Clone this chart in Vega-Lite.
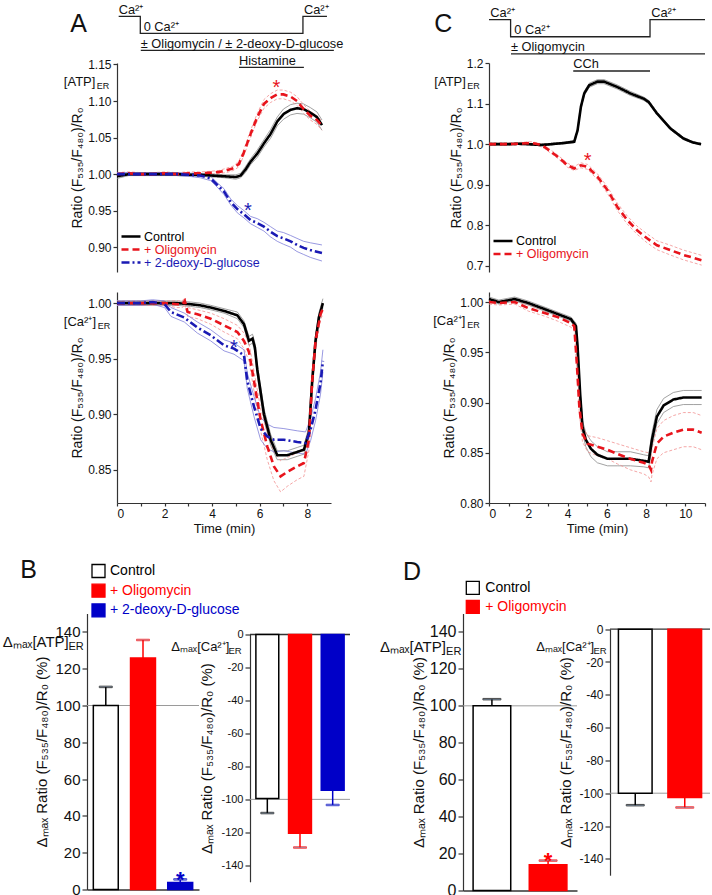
{
"$schema": "https://vega.github.io/schema/vega-lite/v6.json",
"padding": {"left": 2, "top": 0, "right": 0, "bottom": 0},
"spacing": 22.5,
"config": {
 "font": "Liberation Sans",
 "view": {"stroke": null},
 "axis": {"domainColor": "#333333", "tickColor": "#333333", "labelColor": "#111111", "titleColor": "#111111", "grid": false, "titleFontWeight": "normal", "domainWidth": 1.2, "tickWidth": 1.2, "tickSize": 4, "labelPadding": 2, "labelOverlap": false},
 "text": {"color": "#111111"}
},
"datasets": {
 "A1": [
  {"s":"Control","t":0,"m":0.997,"e":0.003},{"s":"Control","t":0.5,"m":1.0,"e":0.002},{"s":"Control","t":1,"m":1.0,"e":0.002},{"s":"Control","t":1.5,"m":1.0,"e":0.002},{"s":"Control","t":2,"m":1.0,"e":0.002},{"s":"Control","t":2.5,"m":1.0,"e":0.002},{"s":"Control","t":3,"m":0.999,"e":0.002},{"s":"Control","t":3.5,"m":0.999,"e":0.002},{"s":"Control","t":4,"m":0.998,"e":0.002},{"s":"Control","t":4.5,"m":0.997,"e":0.002},{"s":"Control","t":5,"m":0.996,"e":0.003},{"s":"Control","t":5.2,"m":0.998,"e":0.003},{"s":"Control","t":5.4,"m":1.006,"e":0.004},{"s":"Control","t":5.62,"m":1.017,"e":0.004},{"s":"Control","t":5.9,"m":1.028,"e":0.005},{"s":"Control","t":6.18,"m":1.042,"e":0.005},{"s":"Control","t":6.46,"m":1.055,"e":0.006},{"s":"Control","t":6.74,"m":1.072,"e":0.006},{"s":"Control","t":7,"m":1.082,"e":0.007},{"s":"Control","t":7.3,"m":1.088,"e":0.007},{"s":"Control","t":7.57,"m":1.09,"e":0.007},{"s":"Control","t":7.85,"m":1.089,"e":0.007},{"s":"Control","t":8.13,"m":1.084,"e":0.007},{"s":"Control","t":8.41,"m":1.078,"e":0.007},{"s":"Control","t":8.62,"m":1.067,"e":0.007},
  {"s":"+ Oligomycin","t":0,"m":1.0,"e":0.002},{"s":"+ Oligomycin","t":0.5,"m":1.001,"e":0.002},{"s":"+ Oligomycin","t":1,"m":1.0,"e":0.002},{"s":"+ Oligomycin","t":1.5,"m":1.0,"e":0.002},{"s":"+ Oligomycin","t":2,"m":1.001,"e":0.002},{"s":"+ Oligomycin","t":2.5,"m":1.0,"e":0.002},{"s":"+ Oligomycin","t":3,"m":1.001,"e":0.002},{"s":"+ Oligomycin","t":3.5,"m":1.001,"e":0.002},{"s":"+ Oligomycin","t":4,"m":1.002,"e":0.002},{"s":"+ Oligomycin","t":4.3,"m":1.003,"e":0.002},{"s":"+ Oligomycin","t":4.6,"m":1.005,"e":0.003},{"s":"+ Oligomycin","t":4.9,"m":1.008,"e":0.003},{"s":"+ Oligomycin","t":5.13,"m":1.014,"e":0.004},{"s":"+ Oligomycin","t":5.34,"m":1.03,"e":0.004},{"s":"+ Oligomycin","t":5.62,"m":1.055,"e":0.005},{"s":"+ Oligomycin","t":5.9,"m":1.078,"e":0.005},{"s":"+ Oligomycin","t":6.18,"m":1.096,"e":0.006},{"s":"+ Oligomycin","t":6.46,"m":1.104,"e":0.006},{"s":"+ Oligomycin","t":6.74,"m":1.109,"e":0.006},{"s":"+ Oligomycin","t":7,"m":1.109,"e":0.006},{"s":"+ Oligomycin","t":7.3,"m":1.106,"e":0.006},{"s":"+ Oligomycin","t":7.57,"m":1.1,"e":0.006},{"s":"+ Oligomycin","t":7.85,"m":1.089,"e":0.006},{"s":"+ Oligomycin","t":8.13,"m":1.08,"e":0.006},{"s":"+ Oligomycin","t":8.41,"m":1.074,"e":0.006},{"s":"+ Oligomycin","t":8.62,"m":1.066,"e":0.006},
  {"s":"+ 2-deoxy-D-glucose","t":0,"m":1.0,"e":0.002},{"s":"+ 2-deoxy-D-glucose","t":0.5,"m":1.0,"e":0.002},{"s":"+ 2-deoxy-D-glucose","t":1,"m":1.0,"e":0.002},{"s":"+ 2-deoxy-D-glucose","t":1.5,"m":1.0,"e":0.002},{"s":"+ 2-deoxy-D-glucose","t":2,"m":1.0,"e":0.002},{"s":"+ 2-deoxy-D-glucose","t":2.5,"m":1.0,"e":0.002},{"s":"+ 2-deoxy-D-glucose","t":3,"m":0.999,"e":0.002},{"s":"+ 2-deoxy-D-glucose","t":3.5,"m":0.998,"e":0.003},{"s":"+ 2-deoxy-D-glucose","t":3.94,"m":0.994,"e":0.003},{"s":"+ 2-deoxy-D-glucose","t":4.22,"m":0.985,"e":0.003},{"s":"+ 2-deoxy-D-glucose","t":4.5,"m":0.976,"e":0.004},{"s":"+ 2-deoxy-D-glucose","t":4.78,"m":0.962,"e":0.004},{"s":"+ 2-deoxy-D-glucose","t":5.06,"m":0.952,"e":0.005},{"s":"+ 2-deoxy-D-glucose","t":5.34,"m":0.945,"e":0.005},{"s":"+ 2-deoxy-D-glucose","t":5.62,"m":0.937,"e":0.005},{"s":"+ 2-deoxy-D-glucose","t":5.9,"m":0.933,"e":0.006},{"s":"+ 2-deoxy-D-glucose","t":6.18,"m":0.928,"e":0.006},{"s":"+ 2-deoxy-D-glucose","t":6.46,"m":0.921,"e":0.007},{"s":"+ 2-deoxy-D-glucose","t":6.74,"m":0.915,"e":0.007},{"s":"+ 2-deoxy-D-glucose","t":7,"m":0.912,"e":0.008},{"s":"+ 2-deoxy-D-glucose","t":7.3,"m":0.908,"e":0.008},{"s":"+ 2-deoxy-D-glucose","t":7.57,"m":0.903,"e":0.009},{"s":"+ 2-deoxy-D-glucose","t":7.85,"m":0.899,"e":0.009},{"s":"+ 2-deoxy-D-glucose","t":8.13,"m":0.896,"e":0.01},{"s":"+ 2-deoxy-D-glucose","t":8.62,"m":0.892,"e":0.011}
 ],
 "A2": [
  {"s":"Control","t":0,"m":1.0,"e":0.002},{"s":"Control","t":0.5,"m":1.0,"e":0.002},{"s":"Control","t":1,"m":1.0,"e":0.002},{"s":"Control","t":1.5,"m":1.0,"e":0.002},{"s":"Control","t":2,"m":1.0,"e":0.002},{"s":"Control","t":2.5,"m":1.0,"e":0.002},{"s":"Control","t":3.1,"m":0.999,"e":0.002},{"s":"Control","t":3.5,"m":0.998,"e":0.002},{"s":"Control","t":3.94,"m":0.996,"e":0.002},{"s":"Control","t":4.5,"m":0.993,"e":0.002},{"s":"Control","t":5.06,"m":0.989,"e":0.003},{"s":"Control","t":5.34,"m":0.981,"e":0.003},{"s":"Control","t":5.55,"m":0.966,"e":0.004},{"s":"Control","t":5.7,"m":0.968,"e":0.004},{"s":"Control","t":5.8,"m":0.96,"e":0.004},{"s":"Control","t":5.9,"m":0.94,"e":0.005},{"s":"Control","t":6.18,"m":0.9,"e":0.005},{"s":"Control","t":6.46,"m":0.877,"e":0.005},{"s":"Control","t":6.74,"m":0.863,"e":0.004},{"s":"Control","t":7.16,"m":0.863,"e":0.004},{"s":"Control","t":7.58,"m":0.866,"e":0.004},{"s":"Control","t":7.86,"m":0.868,"e":0.004},{"s":"Control","t":8.07,"m":0.883,"e":0.005},{"s":"Control","t":8.21,"m":0.93,"e":0.005},{"s":"Control","t":8.35,"m":0.966,"e":0.004},{"s":"Control","t":8.49,"m":0.987,"e":0.004},{"s":"Control","t":8.66,"m":1.0,"e":0.004},
  {"s":"+ Oligomycin","t":0,"m":1.0,"e":0.002},{"s":"+ Oligomycin","t":0.5,"m":1.0,"e":0.002},{"s":"+ Oligomycin","t":1,"m":1.0,"e":0.002},{"s":"+ Oligomycin","t":1.5,"m":1.0,"e":0.002},{"s":"+ Oligomycin","t":2,"m":1.0,"e":0.002},{"s":"+ Oligomycin","t":2.5,"m":0.999,"e":0.003},{"s":"+ Oligomycin","t":2.75,"m":0.999,"e":0.003},{"s":"+ Oligomycin","t":2.85,"m":1.002,"e":0.003},{"s":"+ Oligomycin","t":2.97,"m":0.992,"e":0.004},{"s":"+ Oligomycin","t":3.38,"m":0.99,"e":0.004},{"s":"+ Oligomycin","t":3.94,"m":0.986,"e":0.005},{"s":"+ Oligomycin","t":4.5,"m":0.98,"e":0.006},{"s":"+ Oligomycin","t":5.06,"m":0.974,"e":0.006},{"s":"+ Oligomycin","t":5.34,"m":0.966,"e":0.007},{"s":"+ Oligomycin","t":5.55,"m":0.956,"e":0.008},{"s":"+ Oligomycin","t":5.76,"m":0.93,"e":0.009},{"s":"+ Oligomycin","t":6.04,"m":0.895,"e":0.01},{"s":"+ Oligomycin","t":6.32,"m":0.871,"e":0.012},{"s":"+ Oligomycin","t":6.6,"m":0.853,"e":0.013},{"s":"+ Oligomycin","t":6.88,"m":0.844,"e":0.014},{"s":"+ Oligomycin","t":7.16,"m":0.848,"e":0.013},{"s":"+ Oligomycin","t":7.58,"m":0.853,"e":0.012},{"s":"+ Oligomycin","t":7.86,"m":0.856,"e":0.012},{"s":"+ Oligomycin","t":8.07,"m":0.877,"e":0.01},{"s":"+ Oligomycin","t":8.21,"m":0.93,"e":0.008},{"s":"+ Oligomycin","t":8.35,"m":0.966,"e":0.006},{"s":"+ Oligomycin","t":8.56,"m":0.99,"e":0.005},{"s":"+ Oligomycin","t":8.66,"m":0.995,"e":0.005},
  {"s":"+ 2-deoxy-D-glucose","t":0,"m":1.0,"e":0.002},{"s":"+ 2-deoxy-D-glucose","t":0.5,"m":1.0,"e":0.002},{"s":"+ 2-deoxy-D-glucose","t":1,"m":1.0,"e":0.002},{"s":"+ 2-deoxy-D-glucose","t":1.5,"m":1.001,"e":0.002},{"s":"+ 2-deoxy-D-glucose","t":2,"m":0.999,"e":0.003},{"s":"+ 2-deoxy-D-glucose","t":2.27,"m":0.992,"e":0.004},{"s":"+ 2-deoxy-D-glucose","t":2.83,"m":0.987,"e":0.004},{"s":"+ 2-deoxy-D-glucose","t":3.38,"m":0.978,"e":0.005},{"s":"+ 2-deoxy-D-glucose","t":3.94,"m":0.971,"e":0.005},{"s":"+ 2-deoxy-D-glucose","t":4.5,"m":0.962,"e":0.005},{"s":"+ 2-deoxy-D-glucose","t":4.92,"m":0.959,"e":0.005},{"s":"+ 2-deoxy-D-glucose","t":5.34,"m":0.953,"e":0.005},{"s":"+ 2-deoxy-D-glucose","t":5.48,"m":0.93,"e":0.007},{"s":"+ 2-deoxy-D-glucose","t":5.76,"m":0.907,"e":0.009},{"s":"+ 2-deoxy-D-glucose","t":6.04,"m":0.887,"e":0.01},{"s":"+ 2-deoxy-D-glucose","t":6.32,"m":0.88,"e":0.011},{"s":"+ 2-deoxy-D-glucose","t":6.6,"m":0.877,"e":0.011},{"s":"+ 2-deoxy-D-glucose","t":7.02,"m":0.877,"e":0.01},{"s":"+ 2-deoxy-D-glucose","t":7.58,"m":0.875,"e":0.01},{"s":"+ 2-deoxy-D-glucose","t":7.93,"m":0.874,"e":0.01},{"s":"+ 2-deoxy-D-glucose","t":8.14,"m":0.886,"e":0.01},{"s":"+ 2-deoxy-D-glucose","t":8.35,"m":0.904,"e":0.01},{"s":"+ 2-deoxy-D-glucose","t":8.56,"m":0.928,"e":0.01},{"s":"+ 2-deoxy-D-glucose","t":8.66,"m":0.948,"e":0.01}
 ],
 "C1": [
  {"s":"Control","t":0,"m":1.0,"e":0.002},{"s":"Control","t":0.5,"m":1.0,"e":0.002},{"s":"Control","t":1,"m":1.0,"e":0.002},{"s":"Control","t":1.5,"m":1.001,"e":0.002},{"s":"Control","t":2,"m":1.0,"e":0.002},{"s":"Control","t":2.66,"m":0.998,"e":0.002},{"s":"Control","t":3.16,"m":1.0,"e":0.002},{"s":"Control","t":3.84,"m":1.003,"e":0.002},{"s":"Control","t":4.34,"m":1.006,"e":0.003},{"s":"Control","t":4.51,"m":1.034,"e":0.004},{"s":"Control","t":4.68,"m":1.092,"e":0.005},{"s":"Control","t":4.85,"m":1.125,"e":0.005},{"s":"Control","t":5.1,"m":1.145,"e":0.005},{"s":"Control","t":5.52,"m":1.154,"e":0.005},{"s":"Control","t":5.86,"m":1.154,"e":0.005},{"s":"Control","t":6.53,"m":1.141,"e":0.005},{"s":"Control","t":7.2,"m":1.125,"e":0.005},{"s":"Control","t":7.88,"m":1.112,"e":0.004},{"s":"Control","t":8.13,"m":1.104,"e":0.004},{"s":"Control","t":8.55,"m":1.076,"e":0.003},{"s":"Control","t":9.23,"m":1.039,"e":0.003},{"s":"Control","t":9.9,"m":1.014,"e":0.003},{"s":"Control","t":10.4,"m":1.004,"e":0.002},{"s":"Control","t":10.8,"m":1.0,"e":0.002},
  {"s":"+ Oligomycin","t":0,"m":1.0,"e":0.003},{"s":"+ Oligomycin","t":0.5,"m":1.0,"e":0.003},{"s":"+ Oligomycin","t":1,"m":1.0,"e":0.003},{"s":"+ Oligomycin","t":1.5,"m":1.001,"e":0.003},{"s":"+ Oligomycin","t":2.15,"m":1.003,"e":0.003},{"s":"+ Oligomycin","t":2.5,"m":1.0,"e":0.003},{"s":"+ Oligomycin","t":2.83,"m":0.993,"e":0.004},{"s":"+ Oligomycin","t":3.5,"m":0.969,"e":0.004},{"s":"+ Oligomycin","t":4.0,"m":0.948,"e":0.005},{"s":"+ Oligomycin","t":4.34,"m":0.94,"e":0.005},{"s":"+ Oligomycin","t":4.68,"m":0.948,"e":0.006},{"s":"+ Oligomycin","t":5.02,"m":0.944,"e":0.006},{"s":"+ Oligomycin","t":5.52,"m":0.92,"e":0.007},{"s":"+ Oligomycin","t":6.03,"m":0.887,"e":0.008},{"s":"+ Oligomycin","t":6.53,"m":0.846,"e":0.009},{"s":"+ Oligomycin","t":7.04,"m":0.813,"e":0.01},{"s":"+ Oligomycin","t":7.54,"m":0.788,"e":0.01},{"s":"+ Oligomycin","t":8.05,"m":0.768,"e":0.011},{"s":"+ Oligomycin","t":8.55,"m":0.751,"e":0.011},{"s":"+ Oligomycin","t":9.23,"m":0.739,"e":0.012},{"s":"+ Oligomycin","t":9.9,"m":0.727,"e":0.012},{"s":"+ Oligomycin","t":10.4,"m":0.72,"e":0.012},{"s":"+ Oligomycin","t":10.83,"m":0.714,"e":0.012}
 ],
 "C2": [
  {"s":"Control","t":0,"m":1.003,"e":0.002},{"s":"Control","t":0.5,"m":1.0,"e":0.002},{"s":"Control","t":1.31,"m":1.003,"e":0.002},{"s":"Control","t":2,"m":0.999,"e":0.002},{"s":"Control","t":2.83,"m":0.993,"e":0.002},{"s":"Control","t":3.5,"m":0.988,"e":0.002},{"s":"Control","t":4.17,"m":0.983,"e":0.002},{"s":"Control","t":4.43,"m":0.976,"e":0.003},{"s":"Control","t":4.51,"m":0.956,"e":0.004},{"s":"Control","t":4.65,"m":0.906,"e":0.005},{"s":"Control","t":4.76,"m":0.876,"e":0.006},{"s":"Control","t":4.93,"m":0.863,"e":0.007},{"s":"Control","t":5.19,"m":0.854,"e":0.008},{"s":"Control","t":5.52,"m":0.848,"e":0.008},{"s":"Control","t":6.03,"m":0.844,"e":0.007},{"s":"Control","t":6.53,"m":0.844,"e":0.007},{"s":"Control","t":7.2,"m":0.844,"e":0.007},{"s":"Control","t":7.88,"m":0.842,"e":0.006},{"s":"Control","t":8.13,"m":0.841,"e":0.006},{"s":"Control","t":8.3,"m":0.863,"e":0.007},{"s":"Control","t":8.55,"m":0.886,"e":0.007},{"s":"Control","t":8.89,"m":0.897,"e":0.007},{"s":"Control","t":9.39,"m":0.903,"e":0.007},{"s":"Control","t":9.9,"m":0.905,"e":0.007},{"s":"Control","t":10.4,"m":0.905,"e":0.007},{"s":"Control","t":10.83,"m":0.905,"e":0.007},
  {"s":"+ Oligomycin","t":0,"m":1.0,"e":0.002},{"s":"+ Oligomycin","t":0.5,"m":0.999,"e":0.002},{"s":"+ Oligomycin","t":1.31,"m":1.0,"e":0.002},{"s":"+ Oligomycin","t":2,"m":0.994,"e":0.003},{"s":"+ Oligomycin","t":2.83,"m":0.989,"e":0.003},{"s":"+ Oligomycin","t":3.5,"m":0.985,"e":0.004},{"s":"+ Oligomycin","t":4.17,"m":0.979,"e":0.004},{"s":"+ Oligomycin","t":4.34,"m":0.976,"e":0.004},{"s":"+ Oligomycin","t":4.47,"m":0.94,"e":0.006},{"s":"+ Oligomycin","t":4.6,"m":0.896,"e":0.007},{"s":"+ Oligomycin","t":4.76,"m":0.869,"e":0.008},{"s":"+ Oligomycin","t":5.02,"m":0.859,"e":0.008},{"s":"+ Oligomycin","t":5.52,"m":0.856,"e":0.009},{"s":"+ Oligomycin","t":6.03,"m":0.853,"e":0.009},{"s":"+ Oligomycin","t":6.53,"m":0.849,"e":0.01},{"s":"+ Oligomycin","t":7.2,"m":0.844,"e":0.011},{"s":"+ Oligomycin","t":7.88,"m":0.84,"e":0.011},{"s":"+ Oligomycin","t":8.13,"m":0.838,"e":0.012},{"s":"+ Oligomycin","t":8.25,"m":0.833,"e":0.012},{"s":"+ Oligomycin","t":8.3,"m":0.841,"e":0.013},{"s":"+ Oligomycin","t":8.55,"m":0.859,"e":0.015},{"s":"+ Oligomycin","t":8.89,"m":0.866,"e":0.016},{"s":"+ Oligomycin","t":9.39,"m":0.87,"e":0.017},{"s":"+ Oligomycin","t":9.9,"m":0.873,"e":0.017},{"s":"+ Oligomycin","t":10.4,"m":0.873,"e":0.017},{"s":"+ Oligomycin","t":10.83,"m":0.87,"e":0.017}
 ],
 "starsA1": [{"s":"+ Oligomycin","t":6.7,"m":1.126},{"s":"+ 2-deoxy-D-glucose","t":5.5,"m":0.958}],
 "starsA2": [{"s":"+ 2-deoxy-D-glucose","t":4.92,"m":0.965}],
 "starsC1": [{"s":"+ Oligomycin","t":5.02,"m":0.973}],
 "protoA_step": [{"i":0,"t":0.07,"L":3},{"i":1,"t":0.98,"L":3},{"i":2,"t":0.98,"L":2},{"i":3,"t":7.82,"L":2},{"i":4,"t":7.82,"L":3},{"i":5,"t":8.83,"L":3}],
 "protoA_bars": [{"t":1.0,"t2":9.12,"L":1},{"t":5.13,"t2":7.86,"L":0}],
 "protoA_text": [{"txt":"Ca²⁺","t":0.07,"L":3},{"txt":"0 Ca²⁺","t":1.12,"L":2},{"txt":"Ca²⁺","t":7.86,"L":3},{"txt":"± Oligomycin / ± 2-deoxy-D-glucose","t":1.0,"L":1},{"txt":"Histamine","t":5.13,"L":0}],
 "protoC_step": [{"i":0,"t":0.0,"L":3},{"i":1,"t":1.1,"L":3},{"i":2,"t":1.1,"L":2},{"i":3,"t":8.2,"L":2},{"i":4,"t":8.2,"L":3},{"i":5,"t":11,"L":3}],
 "protoC_bars": [{"t":1.12,"t2":11,"L":1},{"t":4.29,"t2":8.2,"L":0}],
 "protoC_text": [{"txt":"Ca²⁺","t":0.07,"L":3},{"txt":"0 Ca²⁺","t":1.29,"L":2},{"txt":"Ca²⁺","t":8.26,"L":3},{"txt":"± Oligomycin","t":1.12,"L":1},{"txt":"CCh","t":4.29,"L":0}],
 "B1": [{"g":"Control","v":100,"e":110.1},{"g":"+ Oligomycin","v":125.8,"e":135.6},{"g":"+ 2-deoxy-D-glucose","v":3.8,"e":5.5,"sig":"*"}],
 "B2": [{"g":"Control","v":-99.5,"e":-108.3},{"g":"+ Oligomycin","v":-120.5,"e":-129.2},{"g":"+ 2-deoxy-D-glucose","v":-94.5,"e":-103.4}],
 "D1": [{"g":"Control","v":100,"e":103.6},{"g":"+ Oligomycin","v":13.9,"e":16.2,"sig":"*"}],
 "D2": [{"g":"Control","v":-100,"e":-107.3},{"g":"+ Oligomycin","v":-102.6,"e":-108.7}]
},
"resolve": {"scale": {"x": "independent", "y": "independent", "color": "independent", "fill": "independent", "stroke": "independent", "strokeDash": "independent"}, "legend": {"color": "independent", "fill": "independent", "stroke": "independent", "strokeDash": "independent"}},
"vconcat": [
 {
  "columns": 4, "align": "each", "bounds": "flush", "spacing": {"row": 20, "column": 0},
  "resolve": {"scale": {"x": "independent", "y": "independent", "color": "independent", "fill": "independent", "stroke": "independent", "strokeDash": "independent"}, "legend": {"color": "independent", "fill": "independent", "stroke": "independent", "strokeDash": "independent"}},
  "concat": [
   {"width": 30, "height": 0.1, "data": {"values": [{}]}, "mark": {"type": "point", "opacity": 0}, "encoding": {}},
   {
    "width": 214, "height": 40,
    "layer": [
     {"data": {"name": "protoA_step"}, "mark": {"type": "line", "color": "#222222", "strokeWidth": 1.3},
      "encoding": {"x": {"field": "t", "type": "quantitative", "scale": {"domain": [0, 9], "nice": false, "zero": false}, "axis": null}, "y": {"field": "L", "type": "quantitative", "scale": {"domain": [1.43, 3.78], "nice": false, "zero": false}, "axis": null}, "order": {"field": "i", "type": "quantitative"}}},
     {"data": {"name": "protoA_bars"}, "mark": {"type": "rule", "color": "#222222", "strokeWidth": 1.3},
      "encoding": {"x": {"field": "t", "type": "quantitative", "axis": null}, "x2": {"field": "t2"}, "y": {"field": "L", "type": "quantitative", "axis": null}}},
     {"data": {"name": "protoA_text"}, "mark": {"type": "text", "align": "left", "baseline": "alphabetic", "dy": -2.5, "fontSize": 12.8},
      "encoding": {"x": {"field": "t", "type": "quantitative", "axis": null}, "y": {"field": "L", "type": "quantitative", "axis": null}, "text": {"field": "txt"}}},
     {"data": {"values": [{}]}, "mark": {"type": "text", "fontSize": 25, "align": "center", "baseline": "middle"},
      "encoding": {"x": {"datum": -1.61, "type": "quantitative", "axis": null}, "y": {"datum": 2.53, "type": "quantitative", "axis": null}, "text": {"value": "A"}}}
    ]
   },
   {"width": 157.7, "height": 0.1, "data": {"values": [{}]}, "mark": {"type": "point", "opacity": 0}, "encoding": {}},
   {
    "width": 216, "height": 40,
    "layer": [
     {"data": {"name": "protoC_step"}, "mark": {"type": "line", "color": "#222222", "strokeWidth": 1.3},
      "encoding": {"x": {"field": "t", "type": "quantitative", "scale": {"domain": [0, 11], "nice": false, "zero": false}, "axis": null}, "y": {"field": "L", "type": "quantitative", "scale": {"domain": [1.634, 3.969], "nice": false, "zero": false}, "axis": null}, "order": {"field": "i", "type": "quantitative"}}},
     {"data": {"name": "protoC_bars"}, "mark": {"type": "rule", "color": "#222222", "strokeWidth": 1.3},
      "encoding": {"x": {"field": "t", "type": "quantitative", "axis": null}, "x2": {"field": "t2"}, "y": {"field": "L", "type": "quantitative", "axis": null}}},
     {"data": {"name": "protoC_text"}, "mark": {"type": "text", "align": "left", "baseline": "alphabetic", "dy": -3, "fontSize": 12.8},
      "encoding": {"x": {"field": "t", "type": "quantitative", "axis": null}, "y": {"field": "L", "type": "quantitative", "axis": null}, "text": {"field": "txt"}}},
     {"data": {"values": [{}]}, "mark": {"type": "text", "fontSize": 25, "align": "center", "baseline": "middle"},
      "encoding": {"x": {"datum": -2.33, "type": "quantitative", "axis": null}, "y": {"datum": 2.726, "type": "quantitative", "axis": null}, "text": {"value": "C"}}}
    ]
   },

   {"width": 30, "height": 0.1, "data": {"values": [{}]}, "mark": {"type": "point", "opacity": 0}, "encoding": {}},
   {
    "width": 214, "height": 209,
    "data": {"name": "A1"},
    "layer": [
     {"transform": [{"filter": "datum.s === 'Control'"}], "mark": {"type": "errorband", "band": {"opacity": 0}, "borders": {"strokeWidth": 0.8, "color": "#8a8a8a"}}, "encoding": {"x": {"field": "t", "type": "quantitative", "axis": null}, "y": {"field": "m", "type": "quantitative", "title": "Ratio (F₅₃₅/F₄₈₀)/R₀", "axis": {"values": [0.9, 0.95, 1, 1.05, 1.1, 1.15], "tickCount": 10, "format": ".2f", "title": "Ratio (F₅₃₅/F₄₈₀)/R₀", "titleFontSize": 14, "labelFontSize": 12, "titlePadding": 3, "labelOverlap": false}}, "yError": {"field": "e"}}},
     {"transform": [{"filter": "datum.s === '+ Oligomycin'"}], "mark": {"type": "errorband", "band": {"opacity": 0}, "borders": {"strokeWidth": 0.8, "color": "#f19090", "strokeDash": [3, 2]}}, "encoding": {"x": {"field": "t", "type": "quantitative", "axis": null}, "y": {"field": "m", "type": "quantitative", "title": "Ratio (F₅₃₅/F₄₈₀)/R₀", "axis": {"values": [0.9, 0.95, 1, 1.05, 1.1, 1.15], "tickCount": 10, "format": ".2f", "title": "Ratio (F₅₃₅/F₄₈₀)/R₀", "titleFontSize": 14, "labelFontSize": 12, "titlePadding": 3, "labelOverlap": false}}, "yError": {"field": "e"}}},
     {"transform": [{"filter": "datum.s === '+ 2-deoxy-D-glucose'"}], "mark": {"type": "errorband", "band": {"opacity": 0}, "borders": {"strokeWidth": 0.8, "color": "#7f7fd9"}}, "encoding": {"x": {"field": "t", "type": "quantitative", "axis": null}, "y": {"field": "m", "type": "quantitative", "title": "Ratio (F₅₃₅/F₄₈₀)/R₀", "axis": {"values": [0.9, 0.95, 1, 1.05, 1.1, 1.15], "tickCount": 10, "format": ".2f", "title": "Ratio (F₅₃₅/F₄₈₀)/R₀", "titleFontSize": 14, "labelFontSize": 12, "titlePadding": 3, "labelOverlap": false}}, "yError": {"field": "e"}}},
     {"mark": {"type": "line", "strokeWidth": 2.6},
      "encoding": {
       "x": {"field": "t", "type": "quantitative", "scale": {"domain": [0, 9], "nice": false, "zero": false}, "axis": null},
       "y": {"field": "m", "type": "quantitative", "title": "Ratio (F₅₃₅/F₄₈₀)/R₀", "scale": {"domain": [0.866, 1.152], "nice": false, "zero": false}, "axis": {"values": [0.9, 0.95, 1, 1.05, 1.1, 1.15], "tickCount": 10, "format": ".2f", "title": "Ratio (F₅₃₅/F₄₈₀)/R₀", "titleFontSize": 14, "labelFontSize": 12, "titlePadding": 3, "labelOverlap": false}},
       "color": {"field": "s", "type": "nominal", "scale": {"domain": ["Control", "+ Oligomycin", "+ 2-deoxy-D-glucose"], "range": ["#000000", "#e8141c", "#1a1ab4"]},
        "legend": {"title": null, "orient": "none", "legendX": 14, "legendY": 167, "symbolType": "M-3.2,0H0.6", "symbolSize": 100, "symbolStrokeWidth": 2.5, "labelFontSize": 12.5, "rowPadding": -1.5, "labelOffset": 0, "padding": 0, "labelLimit": 250,
         "encode": {"labels": {"update": {"fill": {"signal": "datum.label === 'Control' ? '#000000' : datum.label === '+ Oligomycin' ? '#e8141c' : '#1a1ab4'"}}}}}},
       "strokeDash": {"field": "s", "type": "nominal", "scale": {"domain": ["Control", "+ Oligomycin", "+ 2-deoxy-D-glucose"], "range": [[1, 0], [7, 4], [8, 3, 2, 3]]},
        "legend": {"title": null, "orient": "none", "legendX": 14, "legendY": 167, "symbolType": "M-3.2,0H0.6", "symbolSize": 100, "symbolStrokeWidth": 2.5, "labelFontSize": 12.5, "rowPadding": -1.5, "labelOffset": 0, "padding": 0, "labelLimit": 250,
         "encode": {"labels": {"update": {"fill": {"signal": "datum.label === 'Control' ? '#000000' : datum.label === '+ Oligomycin' ? '#e8141c' : '#1a1ab4'"}}}}}}
      }},
     {"data": {"name": "starsA1"}, "mark": {"type": "text", "fontSize": 20, "baseline": "alphabetic", "dy": 12},
      "encoding": {"x": {"field": "t", "type": "quantitative", "axis": null}, "y": {"field": "m", "type": "quantitative", "title": "Ratio (F₅₃₅/F₄₈₀)/R₀", "axis": {"values": [0.9, 0.95, 1, 1.05, 1.1, 1.15], "tickCount": 10, "format": ".2f", "title": "Ratio (F₅₃₅/F₄₈₀)/R₀", "titleFontSize": 14, "labelFontSize": 12, "titlePadding": 3, "labelOverlap": false}}, "text": {"value": "*"}, "fill": {"field": "s", "type": "nominal", "scale": {"domain": ["+ Oligomycin", "+ 2-deoxy-D-glucose"], "range": ["#e8141c", "#1a1ab4"]}, "legend": null}}},
     {"data": {"values": [{}]}, "mark": {"type": "text", "align": "left", "baseline": "middle", "fontSize": 13},
      "encoding": {"x": {"datum": -2.235, "type": "quantitative", "axis": null}, "y": {"datum": 1.126, "type": "quantitative", "title": "Ratio (F₅₃₅/F₄₈₀)/R₀", "axis": {"values": [0.9, 0.95, 1, 1.05, 1.1, 1.15], "tickCount": 10, "format": ".2f", "title": "Ratio (F₅₃₅/F₄₈₀)/R₀", "titleFontSize": 14, "labelFontSize": 12, "titlePadding": 3, "labelOverlap": false}}, "text": {"value": "[ATP]"}}},
     {"data": {"values": [{}]}, "mark": {"type": "text", "align": "left", "baseline": "middle", "fontSize": 9, "dx": 33, "dy": 4},
      "encoding": {"x": {"datum": -2.235, "type": "quantitative", "axis": null}, "y": {"datum": 1.126, "type": "quantitative", "title": "Ratio (F₅₃₅/F₄₈₀)/R₀", "axis": {"values": [0.9, 0.95, 1, 1.05, 1.1, 1.15], "tickCount": 10, "format": ".2f", "title": "Ratio (F₅₃₅/F₄₈₀)/R₀", "titleFontSize": 14, "labelFontSize": 12, "titlePadding": 3, "labelOverlap": false}}, "text": {"value": "ER"}}}
    ]
   },
   {"width": 157.7, "height": 0.1, "data": {"values": [{}]}, "mark": {"type": "point", "opacity": 0}, "encoding": {}},
   {
    "width": 216, "height": 209,
    "data": {"name": "C1"},
    "layer": [
     {"transform": [{"filter": "datum.s === 'Control'"}], "mark": {"type": "errorband", "band": {"opacity": 0}, "borders": {"strokeWidth": 0.8, "color": "#8a8a8a"}}, "encoding": {"x": {"field": "t", "type": "quantitative", "axis": null}, "y": {"field": "m", "type": "quantitative", "title": "Ratio (F₅₃₅/F₄₈₀)/R₀", "axis": {"values": [0.7, 0.8, 0.9, 1, 1.1, 1.2], "tickCount": 10, "format": ".1f", "title": "Ratio (F₅₃₅/F₄₈₀)/R₀", "titleFontSize": 14, "labelFontSize": 12, "titlePadding": 3, "labelOverlap": false}}, "yError": {"field": "e"}}},
     {"transform": [{"filter": "datum.s === '+ Oligomycin'"}], "mark": {"type": "errorband", "band": {"opacity": 0}, "borders": {"strokeWidth": 0.8, "color": "#f19090", "strokeDash": [3, 2]}}, "encoding": {"x": {"field": "t", "type": "quantitative", "axis": null}, "y": {"field": "m", "type": "quantitative", "title": "Ratio (F₅₃₅/F₄₈₀)/R₀", "axis": {"values": [0.7, 0.8, 0.9, 1, 1.1, 1.2], "tickCount": 10, "format": ".1f", "title": "Ratio (F₅₃₅/F₄₈₀)/R₀", "titleFontSize": 14, "labelFontSize": 12, "titlePadding": 3, "labelOverlap": false}}, "yError": {"field": "e"}}},
     {"mark": {"type": "line", "strokeWidth": 2.6},
      "encoding": {
       "x": {"field": "t", "type": "quantitative", "scale": {"domain": [0, 11], "nice": false, "zero": false}, "axis": null},
       "y": {"field": "m", "type": "quantitative", "title": "Ratio (F₅₃₅/F₄₈₀)/R₀", "scale": {"domain": [0.685, 1.2], "nice": false, "zero": false}, "axis": {"values": [0.7, 0.8, 0.9, 1, 1.1, 1.2], "tickCount": 10, "format": ".1f", "title": "Ratio (F₅₃₅/F₄₈₀)/R₀", "titleFontSize": 14, "labelFontSize": 12, "titlePadding": 3, "labelOverlap": false}},
       "color": {"field": "s", "type": "nominal", "scale": {"domain": ["Control", "+ Oligomycin"], "range": ["#000000", "#e8141c"]},
        "legend": {"title": null, "orient": "none", "legendX": 14, "legendY": 171.5, "symbolType": "M-3.2,0H0.6", "symbolSize": 100, "symbolStrokeWidth": 2.5, "labelFontSize": 12.5, "rowPadding": 0, "labelOffset": 0, "padding": 0, "labelLimit": 250,
         "encode": {"labels": {"update": {"fill": {"signal": "datum.label === 'Control' ? '#000000' : '#e8141c'"}}}}}},
       "strokeDash": {"field": "s", "type": "nominal", "scale": {"domain": ["Control", "+ Oligomycin"], "range": [[1, 0], [7, 4]]},
        "legend": {"title": null, "orient": "none", "legendX": 14, "legendY": 171.5, "symbolType": "M-3.2,0H0.6", "symbolSize": 100, "symbolStrokeWidth": 2.5, "labelFontSize": 12.5, "rowPadding": 0, "labelOffset": 0, "padding": 0, "labelLimit": 250,
         "encode": {"labels": {"update": {"fill": {"signal": "datum.label === 'Control' ? '#000000' : '#e8141c'"}}}}}}
      }},
     {"data": {"name": "starsC1"}, "mark": {"type": "text", "fontSize": 20, "baseline": "alphabetic", "dy": 12, "color": "#e8141c"},
      "encoding": {"x": {"field": "t", "type": "quantitative", "axis": null}, "y": {"field": "m", "type": "quantitative", "title": "Ratio (F₅₃₅/F₄₈₀)/R₀", "axis": {"values": [0.7, 0.8, 0.9, 1, 1.1, 1.2], "tickCount": 10, "format": ".1f", "title": "Ratio (F₅₃₅/F₄₈₀)/R₀", "titleFontSize": 14, "labelFontSize": 12, "titlePadding": 3, "labelOverlap": false}}, "text": {"value": "*"}}},
     {"data": {"values": [{}]}, "mark": {"type": "text", "align": "left", "baseline": "middle", "fontSize": 13},
      "encoding": {"x": {"datum": -2.785, "type": "quantitative", "axis": null}, "y": {"datum": 1.153, "type": "quantitative", "title": "Ratio (F₅₃₅/F₄₈₀)/R₀", "axis": {"values": [0.7, 0.8, 0.9, 1, 1.1, 1.2], "tickCount": 10, "format": ".1f", "title": "Ratio (F₅₃₅/F₄₈₀)/R₀", "titleFontSize": 14, "labelFontSize": 12, "titlePadding": 3, "labelOverlap": false}}, "text": {"value": "[ATP]"}}},
     {"data": {"values": [{}]}, "mark": {"type": "text", "align": "left", "baseline": "middle", "fontSize": 9, "dx": 33, "dy": 4},
      "encoding": {"x": {"datum": -2.785, "type": "quantitative", "axis": null}, "y": {"datum": 1.153, "type": "quantitative", "title": "Ratio (F₅₃₅/F₄₈₀)/R₀", "axis": {"values": [0.7, 0.8, 0.9, 1, 1.1, 1.2], "tickCount": 10, "format": ".1f", "title": "Ratio (F₅₃₅/F₄₈₀)/R₀", "titleFontSize": 14, "labelFontSize": 12, "titlePadding": 3, "labelOverlap": false}}, "text": {"value": "ER"}}}
    ]
   },

   {"width": 30, "height": 0.1, "data": {"values": [{}]}, "mark": {"type": "point", "opacity": 0}, "encoding": {}},
   {
    "width": 214, "height": 211,
    "data": {"name": "A2"},
    "layer": [
     {"transform": [{"filter": "datum.s === 'Control'"}], "mark": {"type": "errorband", "band": {"opacity": 0}, "borders": {"strokeWidth": 0.8, "color": "#8a8a8a"}},
      "encoding": {"x": {"field": "t", "type": "quantitative", "title": "Time (min)", "axis": {"values": [0, 1, 2, 3, 4, 5, 6, 7, 8], "tickCount": 12, "labelExpr": "datum.value % 2 === 0 ? datum.label : ''", "title": "Time (min)", "titleFontSize": 13, "labelFontSize": 12, "titlePadding": 3, "tickSize": 3, "labelOverlap": false}}, "y": {"field": "m", "type": "quantitative", "title": "Ratio (F₅₃₅/F₄₈₀)/R₀", "axis": {"values": [0.85, 0.9, 0.95, 1], "tickCount": 10, "format": ".2f", "title": "Ratio (F₅₃₅/F₄₈₀)/R₀", "titleFontSize": 14, "labelFontSize": 12, "titlePadding": 3, "labelOverlap": false}}, "yError": {"field": "e"}}},
     {"transform": [{"filter": "datum.s === '+ Oligomycin'"}], "mark": {"type": "errorband", "band": {"opacity": 0}, "borders": {"strokeWidth": 0.8, "color": "#f19090", "strokeDash": [3, 2]}},
      "encoding": {"x": {"field": "t", "type": "quantitative", "title": "Time (min)", "axis": {"values": [0, 1, 2, 3, 4, 5, 6, 7, 8], "tickCount": 12, "labelExpr": "datum.value % 2 === 0 ? datum.label : ''", "title": "Time (min)", "titleFontSize": 13, "labelFontSize": 12, "titlePadding": 3, "tickSize": 3, "labelOverlap": false}}, "y": {"field": "m", "type": "quantitative", "title": "Ratio (F₅₃₅/F₄₈₀)/R₀", "axis": {"values": [0.85, 0.9, 0.95, 1], "tickCount": 10, "format": ".2f", "title": "Ratio (F₅₃₅/F₄₈₀)/R₀", "titleFontSize": 14, "labelFontSize": 12, "titlePadding": 3, "labelOverlap": false}}, "yError": {"field": "e"}}},
     {"transform": [{"filter": "datum.s === '+ 2-deoxy-D-glucose'"}], "mark": {"type": "errorband", "band": {"opacity": 0}, "borders": {"strokeWidth": 0.8, "color": "#7f7fd9"}},
      "encoding": {"x": {"field": "t", "type": "quantitative", "title": "Time (min)", "axis": {"values": [0, 1, 2, 3, 4, 5, 6, 7, 8], "tickCount": 12, "labelExpr": "datum.value % 2 === 0 ? datum.label : ''", "title": "Time (min)", "titleFontSize": 13, "labelFontSize": 12, "titlePadding": 3, "tickSize": 3, "labelOverlap": false}}, "y": {"field": "m", "type": "quantitative", "title": "Ratio (F₅₃₅/F₄₈₀)/R₀", "axis": {"values": [0.85, 0.9, 0.95, 1], "tickCount": 10, "format": ".2f", "title": "Ratio (F₅₃₅/F₄₈₀)/R₀", "titleFontSize": 14, "labelFontSize": 12, "titlePadding": 3, "labelOverlap": false}}, "yError": {"field": "e"}}},
     {"mark": {"type": "line", "strokeWidth": 2.6},
      "encoding": {
       "x": {"field": "t", "type": "quantitative", "title": "Time (min)", "scale": {"domain": [0, 9], "nice": false, "zero": false}, "axis": {"values": [0, 1, 2, 3, 4, 5, 6, 7, 8], "tickCount": 12, "labelExpr": "datum.value % 2 === 0 ? datum.label : ''", "title": "Time (min)", "titleFontSize": 13, "labelFontSize": 12, "titlePadding": 3, "tickSize": 3, "labelOverlap": false}},
       "y": {"field": "m", "type": "quantitative", "title": "Ratio (F₅₃₅/F₄₈₀)/R₀", "scale": {"domain": [0.82, 1.01], "nice": false, "zero": false}, "axis": {"values": [0.85, 0.9, 0.95, 1], "tickCount": 10, "format": ".2f", "title": "Ratio (F₅₃₅/F₄₈₀)/R₀", "titleFontSize": 14, "labelFontSize": 12, "titlePadding": 3, "labelOverlap": false}},
       "color": {"field": "s", "type": "nominal", "scale": {"domain": ["Control", "+ Oligomycin", "+ 2-deoxy-D-glucose"], "range": ["#000000", "#e8141c", "#1a1ab4"]}, "legend": null},
       "strokeDash": {"field": "s", "type": "nominal", "scale": {"domain": ["Control", "+ Oligomycin", "+ 2-deoxy-D-glucose"], "range": [[1, 0], [7, 4], [8, 3, 2, 3]]}, "legend": null}
      }},
     {"data": {"name": "starsA2"}, "mark": {"type": "text", "fontSize": 20, "baseline": "alphabetic", "dy": 12, "color": "#1a1ab4"},
      "encoding": {"x": {"field": "t", "type": "quantitative", "title": "Time (min)", "axis": {"values": [0, 1, 2, 3, 4, 5, 6, 7, 8], "tickCount": 12, "labelExpr": "datum.value % 2 === 0 ? datum.label : ''", "title": "Time (min)", "titleFontSize": 13, "labelFontSize": 12, "titlePadding": 3, "tickSize": 3, "labelOverlap": false}}, "y": {"field": "m", "type": "quantitative", "title": "Ratio (F₅₃₅/F₄₈₀)/R₀", "axis": {"values": [0.85, 0.9, 0.95, 1], "tickCount": 10, "format": ".2f", "title": "Ratio (F₅₃₅/F₄₈₀)/R₀", "titleFontSize": 14, "labelFontSize": 12, "titlePadding": 3, "labelOverlap": false}}, "text": {"value": "*"}}},
     {"data": {"values": [{}]}, "mark": {"type": "text", "align": "left", "baseline": "middle", "fontSize": 13},
      "encoding": {"x": {"datum": -2.235, "type": "quantitative", "title": "Time (min)", "axis": {"values": [0, 1, 2, 3, 4, 5, 6, 7, 8], "tickCount": 12, "labelExpr": "datum.value % 2 === 0 ? datum.label : ''", "title": "Time (min)", "titleFontSize": 13, "labelFontSize": 12, "titlePadding": 3, "tickSize": 3, "labelOverlap": false}}, "y": {"datum": 0.983, "type": "quantitative", "title": "Ratio (F₅₃₅/F₄₈₀)/R₀", "axis": {"values": [0.85, 0.9, 0.95, 1], "tickCount": 10, "format": ".2f", "title": "Ratio (F₅₃₅/F₄₈₀)/R₀", "titleFontSize": 14, "labelFontSize": 12, "titlePadding": 3, "labelOverlap": false}}, "text": {"value": "[Ca²⁺]"}}},
     {"data": {"values": [{}]}, "mark": {"type": "text", "align": "left", "baseline": "middle", "fontSize": 9, "dx": 34, "dy": 4},
      "encoding": {"x": {"datum": -2.235, "type": "quantitative", "title": "Time (min)", "axis": {"values": [0, 1, 2, 3, 4, 5, 6, 7, 8], "tickCount": 12, "labelExpr": "datum.value % 2 === 0 ? datum.label : ''", "title": "Time (min)", "titleFontSize": 13, "labelFontSize": 12, "titlePadding": 3, "tickSize": 3, "labelOverlap": false}}, "y": {"datum": 0.983, "type": "quantitative", "title": "Ratio (F₅₃₅/F₄₈₀)/R₀", "axis": {"values": [0.85, 0.9, 0.95, 1], "tickCount": 10, "format": ".2f", "title": "Ratio (F₅₃₅/F₄₈₀)/R₀", "titleFontSize": 14, "labelFontSize": 12, "titlePadding": 3, "labelOverlap": false}}, "text": {"value": "ER"}}}
    ]
   },
   {"width": 157.7, "height": 0.1, "data": {"values": [{}]}, "mark": {"type": "point", "opacity": 0}, "encoding": {}},
   {
    "width": 216, "height": 211,
    "data": {"name": "C2"},
    "layer": [
     {"transform": [{"filter": "datum.s === 'Control'"}], "mark": {"type": "errorband", "band": {"opacity": 0}, "borders": {"strokeWidth": 0.8, "color": "#8a8a8a"}},
      "encoding": {"x": {"field": "t", "type": "quantitative", "title": "Time (min)", "axis": {"values": [0, 1, 2, 3, 4, 5, 6, 7, 8, 9, 10, 11], "tickCount": 14, "labelExpr": "datum.value % 2 === 0 ? datum.label : ''", "title": "Time (min)", "titleFontSize": 13, "labelFontSize": 12, "titlePadding": 3, "tickSize": 3, "labelOverlap": false}}, "y": {"field": "m", "type": "quantitative", "title": "Ratio (F₅₃₅/F₄₈₀)/R₀", "axis": {"values": [0.8, 0.85, 0.9, 0.95, 1], "tickCount": 10, "format": ".2f", "title": "Ratio (F₅₃₅/F₄₈₀)/R₀", "titleFontSize": 14, "labelFontSize": 12, "titlePadding": 3, "labelOverlap": false}}, "yError": {"field": "e"}}},
     {"transform": [{"filter": "datum.s === '+ Oligomycin'"}], "mark": {"type": "errorband", "band": {"opacity": 0}, "borders": {"strokeWidth": 0.8, "color": "#f19090", "strokeDash": [3, 2]}},
      "encoding": {"x": {"field": "t", "type": "quantitative", "title": "Time (min)", "axis": {"values": [0, 1, 2, 3, 4, 5, 6, 7, 8, 9, 10, 11], "tickCount": 14, "labelExpr": "datum.value % 2 === 0 ? datum.label : ''", "title": "Time (min)", "titleFontSize": 13, "labelFontSize": 12, "titlePadding": 3, "tickSize": 3, "labelOverlap": false}}, "y": {"field": "m", "type": "quantitative", "title": "Ratio (F₅₃₅/F₄₈₀)/R₀", "axis": {"values": [0.8, 0.85, 0.9, 0.95, 1], "tickCount": 10, "format": ".2f", "title": "Ratio (F₅₃₅/F₄₈₀)/R₀", "titleFontSize": 14, "labelFontSize": 12, "titlePadding": 3, "labelOverlap": false}}, "yError": {"field": "e"}}},
     {"mark": {"type": "line", "strokeWidth": 2.6},
      "encoding": {
       "x": {"field": "t", "type": "quantitative", "title": "Time (min)", "scale": {"domain": [0, 11], "nice": false, "zero": false}, "axis": {"values": [0, 1, 2, 3, 4, 5, 6, 7, 8, 9, 10, 11], "tickCount": 14, "labelExpr": "datum.value % 2 === 0 ? datum.label : ''", "title": "Time (min)", "titleFontSize": 13, "labelFontSize": 12, "titlePadding": 3, "tickSize": 3, "labelOverlap": false}},
       "y": {"field": "m", "type": "quantitative", "title": "Ratio (F₅₃₅/F₄₈₀)/R₀", "scale": {"domain": [0.8, 1.01], "nice": false, "zero": false}, "axis": {"values": [0.8, 0.85, 0.9, 0.95, 1], "tickCount": 10, "format": ".2f", "title": "Ratio (F₅₃₅/F₄₈₀)/R₀", "titleFontSize": 14, "labelFontSize": 12, "titlePadding": 3, "labelOverlap": false}},
       "color": {"field": "s", "type": "nominal", "scale": {"domain": ["Control", "+ Oligomycin"], "range": ["#000000", "#e8141c"]}, "legend": null},
       "strokeDash": {"field": "s", "type": "nominal", "scale": {"domain": ["Control", "+ Oligomycin"], "range": [[1, 0], [7, 4]]}, "legend": null}
      }},
     {"data": {"values": [{}]}, "mark": {"type": "text", "align": "left", "baseline": "middle", "fontSize": 13},
      "encoding": {"x": {"datum": -2.84, "type": "quantitative", "title": "Time (min)", "axis": {"values": [0, 1, 2, 3, 4, 5, 6, 7, 8, 9, 10, 11], "tickCount": 14, "labelExpr": "datum.value % 2 === 0 ? datum.label : ''", "title": "Time (min)", "titleFontSize": 13, "labelFontSize": 12, "titlePadding": 3, "tickSize": 3, "labelOverlap": false}}, "y": {"datum": 0.981, "type": "quantitative", "title": "Ratio (F₅₃₅/F₄₈₀)/R₀", "axis": {"values": [0.8, 0.85, 0.9, 0.95, 1], "tickCount": 10, "format": ".2f", "title": "Ratio (F₅₃₅/F₄₈₀)/R₀", "titleFontSize": 14, "labelFontSize": 12, "titlePadding": 3, "labelOverlap": false}}, "text": {"value": "[Ca²⁺]"}}},
     {"data": {"values": [{}]}, "mark": {"type": "text", "align": "left", "baseline": "middle", "fontSize": 9, "dx": 34, "dy": 4},
      "encoding": {"x": {"datum": -2.84, "type": "quantitative", "title": "Time (min)", "axis": {"values": [0, 1, 2, 3, 4, 5, 6, 7, 8, 9, 10, 11], "tickCount": 14, "labelExpr": "datum.value % 2 === 0 ? datum.label : ''", "title": "Time (min)", "titleFontSize": 13, "labelFontSize": 12, "titlePadding": 3, "tickSize": 3, "labelOverlap": false}}, "y": {"datum": 0.981, "type": "quantitative", "title": "Ratio (F₅₃₅/F₄₈₀)/R₀", "axis": {"values": [0.8, 0.85, 0.9, 0.95, 1], "tickCount": 10, "format": ".2f", "title": "Ratio (F₅₃₅/F₄₈₀)/R₀", "titleFontSize": 14, "labelFontSize": 12, "titlePadding": 3, "labelOverlap": false}}, "text": {"value": "ER"}}}
    ]
   }
  ]
 },
 {
  "bounds": "flush", "spacing": 0,
  "resolve": {"scale": {"x": "independent", "y": "independent", "color": "independent", "fill": "independent", "stroke": "independent", "strokeDash": "independent"}, "legend": {"color": "independent", "fill": "independent", "stroke": "independent", "strokeDash": "independent"}},
  "hconcat": [
   {
    "width": 112, "height": 276,
    "data": {"name": "B1"},
    "layer": [
     {"data": {"values": [{}]}, "mark": {"type": "rule", "color": "#9a9a9a", "strokeWidth": 1}, "encoding": {"y": {"datum": 100, "type": "quantitative", "title": "Δₘₐₓ Ratio (F₅₃₅/F₄₈₀)/R₀ (%)", "axis": {"values": [0, 20, 40, 60, 80, 100, 120, 140], "tickCount": 10, "title": "Δₘₐₓ Ratio (F₅₃₅/F₄₈₀)/R₀ (%)", "titleFontSize": 15, "labelFontSize": 15, "titlePadding": 5, "tickSize": 5, "labelOverlap": false}}}},
     {"mark": {"type": "bar", "strokeWidth": 1.5},
      "encoding": {
       "x": {"field": "g", "type": "nominal", "sort": null, "title": null, "scale": {"domain": ["Control", "+ Oligomycin", "+ 2-deoxy-D-glucose"], "paddingInner": 0.33, "paddingOuter": 0.17}, "axis": {"orient": "bottom", "labels": false, "ticks": false, "title": null, "domainWidth": 1.3}},
       "y": {"field": "v", "type": "quantitative", "title": "Δₘₐₓ Ratio (F₅₃₅/F₄₈₀)/R₀ (%)", "scale": {"domain": [0, 150], "nice": false}, "axis": {"values": [0, 20, 40, 60, 80, 100, 120, 140], "tickCount": 10, "title": "Δₘₐₓ Ratio (F₅₃₅/F₄₈₀)/R₀ (%)", "titleFontSize": 15, "labelFontSize": 15, "titlePadding": 5, "tickSize": 5, "labelOverlap": false}},
       "fill": {"field": "g", "type": "nominal", "scale": {"domain": ["Control", "+ Oligomycin", "+ 2-deoxy-D-glucose"], "range": ["#ffffff", "#ff0000", "#0000c8"]},
        "legend": {"title": null, "orient": "none", "legendX": 4, "legendY": -50, "symbolType": "square", "symbolSize": 169, "labelFontSize": 14, "rowPadding": 0.7, "labelOffset": 4, "padding": 0, "labelLimit": 250,
         "encode": {"symbols": {"update": {"stroke": {"signal": "datum.value === 'Control' ? '#000000' : 'transparent'"}, "strokeWidth": {"value": 1.3}}}, "labels": {"update": {"fill": {"signal": "datum.label === 'Control' ? '#000000' : datum.label === '+ Oligomycin' ? '#ff0000' : '#0000c8'"}}}}}},
       "stroke": {"field": "g", "type": "nominal", "scale": {"domain": ["Control", "+ Oligomycin", "+ 2-deoxy-D-glucose"], "range": ["#000000", "#ff0000", "#0000c8"]}, "legend": null}
      }},
     {"mark": {"type": "rule", "strokeWidth": 1.5},
      "encoding": {"x": {"field": "g", "type": "nominal", "sort": null, "title": null, "axis": {"orient": "bottom", "labels": false, "ticks": false, "title": null, "domainWidth": 1.3}}, "y": {"field": "v", "type": "quantitative", "title": "Δₘₐₓ Ratio (F₅₃₅/F₄₈₀)/R₀ (%)", "axis": {"values": [0, 20, 40, 60, 80, 100, 120, 140], "tickCount": 10, "title": "Δₘₐₓ Ratio (F₅₃₅/F₄₈₀)/R₀ (%)", "titleFontSize": 15, "labelFontSize": 15, "titlePadding": 5, "tickSize": 5, "labelOverlap": false}}, "y2": {"field": "e"}, "stroke": {"field": "g", "type": "nominal", "legend": null}}},
     {"mark": {"type": "tick", "thickness": 1.5, "size": 13},
      "encoding": {"x": {"field": "g", "type": "nominal", "sort": null, "title": null, "axis": {"orient": "bottom", "labels": false, "ticks": false, "title": null, "domainWidth": 1.3}}, "y": {"field": "e", "type": "quantitative", "title": "Δₘₐₓ Ratio (F₅₃₅/F₄₈₀)/R₀ (%)", "axis": {"values": [0, 20, 40, 60, 80, 100, 120, 140], "tickCount": 10, "title": "Δₘₐₓ Ratio (F₅₃₅/F₄₈₀)/R₀ (%)", "titleFontSize": 15, "labelFontSize": 15, "titlePadding": 5, "tickSize": 5, "labelOverlap": false}}, "stroke": {"field": "g", "type": "nominal", "legend": null}}},
     {"transform": [{"filter": "datum.sig"}], "mark": {"type": "text", "fontSize": 22, "fontWeight": "bold", "baseline": "alphabetic", "dy": 8},
      "encoding": {"x": {"field": "g", "type": "nominal", "sort": null, "title": null, "axis": {"orient": "bottom", "labels": false, "ticks": false, "title": null, "domainWidth": 1.3}}, "y": {"field": "e", "type": "quantitative", "title": "Δₘₐₓ Ratio (F₅₃₅/F₄₈₀)/R₀ (%)", "axis": {"values": [0, 20, 40, 60, 80, 100, 120, 140], "tickCount": 10, "title": "Δₘₐₓ Ratio (F₅₃₅/F₄₈₀)/R₀ (%)", "titleFontSize": 15, "labelFontSize": 15, "titlePadding": 5, "tickSize": 5, "labelOverlap": false}}, "text": {"field": "sig"}, "fill": {"field": "g", "type": "nominal"}}},
     {"data": {"values": [{}]}, "mark": {"type": "text", "align": "right", "baseline": "middle", "fontSize": 15, "dx": -37}, "encoding": {"x": {"datum": "Control"}, "y": {"datum": 134.4}, "text": {"value": "Δₘₐₓ[ATP]"}}},
     {"data": {"values": [{}]}, "mark": {"type": "text", "align": "right", "baseline": "middle", "fontSize": 11, "dx": -22, "dy": 5}, "encoding": {"x": {"datum": "Control"}, "y": {"datum": 134.4}, "text": {"value": "ER"}}},
     {"data": {"values": [{}]}, "mark": {"type": "text", "align": "center", "baseline": "middle", "fontSize": 25, "dx": -77.3}, "encoding": {"x": {"datum": "Control"}, "y": {"datum": 173.7}, "text": {"value": "B"}}}
    ]
   },
   {"width": 50.3, "height": 0.1, "data": {"values": [{}]}, "mark": {"type": "point", "opacity": 0}, "encoding": {}},
   {
    "width": 100, "height": 268.3,
    "data": {"name": "B2"},
    "layer": [
     {"data": {"values": [{}]}, "mark": {"type": "rule", "color": "#9a9a9a", "strokeWidth": 1}, "encoding": {"y": {"datum": -100, "type": "quantitative", "title": "Δₘₐₓ Ratio (F₅₃₅/F₄₈₀)/R₀ (%)", "axis": {"values": [0, -20, -40, -60, -80, -100, -120, -140], "tickCount": 10, "labelExpr": "datum.value === 0 ? '0' : '-' + abs(datum.value)", "title": "Δₘₐₓ Ratio (F₅₃₅/F₄₈₀)/R₀ (%)", "titleFontSize": 15, "labelFontSize": 11, "titlePadding": 6, "tickSize": 5, "labelOverlap": false}}}},
     {"data": {"values": [{}]}, "mark": {"type": "rule", "color": "#333333", "strokeWidth": 1.3}, "encoding": {"y": {"datum": 0, "type": "quantitative", "title": "Δₘₐₓ Ratio (F₅₃₅/F₄₈₀)/R₀ (%)", "axis": {"values": [0, -20, -40, -60, -80, -100, -120, -140], "tickCount": 10, "labelExpr": "datum.value === 0 ? '0' : '-' + abs(datum.value)", "title": "Δₘₐₓ Ratio (F₅₃₅/F₄₈₀)/R₀ (%)", "titleFontSize": 15, "labelFontSize": 11, "titlePadding": 6, "tickSize": 5, "labelOverlap": false}}}},
     {"mark": {"type": "bar", "strokeWidth": 1.5},
      "encoding": {
       "x": {"field": "g", "type": "nominal", "sort": null, "scale": {"domain": ["Control", "+ Oligomycin", "+ 2-deoxy-D-glucose"], "paddingInner": 0.3, "paddingOuter": 0.18}, "axis": null},
       "y": {"field": "v", "type": "quantitative", "title": "Δₘₐₓ Ratio (F₅₃₅/F₄₈₀)/R₀ (%)", "scale": {"domain": [-150, 0], "nice": false, "range": [268.3, 21]}, "axis": {"values": [0, -20, -40, -60, -80, -100, -120, -140], "tickCount": 10, "labelExpr": "datum.value === 0 ? '0' : '-' + abs(datum.value)", "title": "Δₘₐₓ Ratio (F₅₃₅/F₄₈₀)/R₀ (%)", "titleFontSize": 15, "labelFontSize": 11, "titlePadding": 6, "tickSize": 5, "labelOverlap": false}},
       "fill": {"field": "g", "type": "nominal", "scale": {"domain": ["Control", "+ Oligomycin", "+ 2-deoxy-D-glucose"], "range": ["#ffffff", "#ff0000", "#0000c8"]}, "legend": null},
       "stroke": {"field": "g", "type": "nominal", "scale": {"domain": ["Control", "+ Oligomycin", "+ 2-deoxy-D-glucose"], "range": ["#000000", "#ff0000", "#0000c8"]}, "legend": null}
      }},
     {"mark": {"type": "rule", "strokeWidth": 1.5},
      "encoding": {"x": {"field": "g", "type": "nominal", "sort": null, "axis": null}, "y": {"field": "v", "type": "quantitative", "title": "Δₘₐₓ Ratio (F₅₃₅/F₄₈₀)/R₀ (%)", "axis": {"values": [0, -20, -40, -60, -80, -100, -120, -140], "tickCount": 10, "labelExpr": "datum.value === 0 ? '0' : '-' + abs(datum.value)", "title": "Δₘₐₓ Ratio (F₅₃₅/F₄₈₀)/R₀ (%)", "titleFontSize": 15, "labelFontSize": 11, "titlePadding": 6, "tickSize": 5, "labelOverlap": false}}, "y2": {"field": "e"}, "stroke": {"field": "g", "type": "nominal", "legend": null}}},
     {"mark": {"type": "tick", "thickness": 1.5, "size": 13},
      "encoding": {"x": {"field": "g", "type": "nominal", "sort": null, "axis": null}, "y": {"field": "e", "type": "quantitative", "title": "Δₘₐₓ Ratio (F₅₃₅/F₄₈₀)/R₀ (%)", "axis": {"values": [0, -20, -40, -60, -80, -100, -120, -140], "tickCount": 10, "labelExpr": "datum.value === 0 ? '0' : '-' + abs(datum.value)", "title": "Δₘₐₓ Ratio (F₅₃₅/F₄₈₀)/R₀ (%)", "titleFontSize": 15, "labelFontSize": 11, "titlePadding": 6, "tickSize": 5, "labelOverlap": false}}, "stroke": {"field": "g", "type": "nominal", "legend": null}}},
     {"data": {"values": [{}]}, "mark": {"type": "text", "align": "right", "baseline": "middle", "fontSize": 13, "dx": -38}, "encoding": {"x": {"datum": "Control", "axis": null}, "y": {"datum": -7.5}, "text": {"value": "Δₘₐₓ[Ca²⁺]"}}},
     {"data": {"values": [{}]}, "mark": {"type": "text", "align": "right", "baseline": "middle", "fontSize": 9.5, "dx": -25.6, "dy": 4}, "encoding": {"x": {"datum": "Control", "axis": null}, "y": {"datum": -7.5}, "text": {"value": "ER"}}}
    ]
   },
   {"width": 112.5, "height": 0.1, "data": {"values": [{}]}, "mark": {"type": "point", "opacity": 0}, "encoding": {}},
   {
    "width": 114, "height": 277,
    "data": {"name": "D1"},
    "layer": [
     {"data": {"values": [{}]}, "mark": {"type": "rule", "color": "#9a9a9a", "strokeWidth": 1}, "encoding": {"y": {"datum": 100, "type": "quantitative", "title": "Δₘₐₓ Ratio (F₅₃₅/F₄₈₀)/R₀ (%)", "axis": {"values": [0, 20, 40, 60, 80, 100, 120, 140], "tickCount": 10, "title": "Δₘₐₓ Ratio (F₅₃₅/F₄₈₀)/R₀ (%)", "titleFontSize": 15, "labelFontSize": 16, "titlePadding": 3, "tickSize": 5, "labelOverlap": false}}}},
     {"mark": {"type": "bar", "strokeWidth": 1.5},
      "encoding": {
       "x": {"field": "g", "type": "nominal", "sort": null, "title": null, "scale": {"domain": ["Control", "+ Oligomycin"], "paddingInner": 0.33, "paddingOuter": 0.18}, "axis": {"orient": "bottom", "labels": false, "ticks": false, "title": null, "domainWidth": 1.3}},
       "y": {"field": "v", "type": "quantitative", "title": "Δₘₐₓ Ratio (F₅₃₅/F₄₈₀)/R₀ (%)", "scale": {"domain": [0, 150], "nice": false}, "axis": {"values": [0, 20, 40, 60, 80, 100, 120, 140], "tickCount": 10, "title": "Δₘₐₓ Ratio (F₅₃₅/F₄₈₀)/R₀ (%)", "titleFontSize": 15, "labelFontSize": 16, "titlePadding": 3, "tickSize": 5, "labelOverlap": false}},
       "fill": {"field": "g", "type": "nominal", "scale": {"domain": ["Control", "+ Oligomycin"], "range": ["#ffffff", "#ff0000"]},
        "legend": {"title": null, "orient": "none", "legendX": 2.3, "legendY": -33.1, "symbolType": "square", "symbolSize": 169, "labelFontSize": 14, "rowPadding": 0, "labelOffset": 5, "padding": 0, "labelLimit": 250,
         "encode": {"symbols": {"update": {"stroke": {"signal": "datum.value === 'Control' ? '#000000' : 'transparent'"}, "strokeWidth": {"value": 1.3}}}, "labels": {"update": {"fill": {"signal": "datum.label === 'Control' ? '#000000' : '#ff0000'"}}}}}},
       "stroke": {"field": "g", "type": "nominal", "scale": {"domain": ["Control", "+ Oligomycin"], "range": ["#000000", "#ff0000"]}, "legend": null}
      }},
     {"mark": {"type": "rule", "strokeWidth": 1.5},
      "encoding": {"x": {"field": "g", "type": "nominal", "sort": null, "title": null, "axis": {"orient": "bottom", "labels": false, "ticks": false, "title": null, "domainWidth": 1.3}}, "y": {"field": "v", "type": "quantitative", "title": "Δₘₐₓ Ratio (F₅₃₅/F₄₈₀)/R₀ (%)", "axis": {"values": [0, 20, 40, 60, 80, 100, 120, 140], "tickCount": 10, "title": "Δₘₐₓ Ratio (F₅₃₅/F₄₈₀)/R₀ (%)", "titleFontSize": 15, "labelFontSize": 16, "titlePadding": 3, "tickSize": 5, "labelOverlap": false}}, "y2": {"field": "e"}, "stroke": {"field": "g", "type": "nominal", "legend": null}}},
     {"mark": {"type": "tick", "thickness": 1.5, "size": 18},
      "encoding": {"x": {"field": "g", "type": "nominal", "sort": null, "title": null, "axis": {"orient": "bottom", "labels": false, "ticks": false, "title": null, "domainWidth": 1.3}}, "y": {"field": "e", "type": "quantitative", "title": "Δₘₐₓ Ratio (F₅₃₅/F₄₈₀)/R₀ (%)", "axis": {"values": [0, 20, 40, 60, 80, 100, 120, 140], "tickCount": 10, "title": "Δₘₐₓ Ratio (F₅₃₅/F₄₈₀)/R₀ (%)", "titleFontSize": 15, "labelFontSize": 16, "titlePadding": 3, "tickSize": 5, "labelOverlap": false}}, "stroke": {"field": "g", "type": "nominal", "legend": null}}},
     {"transform": [{"filter": "datum.sig"}], "mark": {"type": "text", "fontSize": 22, "fontWeight": "bold", "baseline": "alphabetic", "dy": 7},
      "encoding": {"x": {"field": "g", "type": "nominal", "sort": null, "title": null, "axis": {"orient": "bottom", "labels": false, "ticks": false, "title": null, "domainWidth": 1.3}}, "y": {"field": "e", "type": "quantitative", "title": "Δₘₐₓ Ratio (F₅₃₅/F₄₈₀)/R₀ (%)", "axis": {"values": [0, 20, 40, 60, 80, 100, 120, 140], "tickCount": 10, "title": "Δₘₐₓ Ratio (F₅₃₅/F₄₈₀)/R₀ (%)", "titleFontSize": 15, "labelFontSize": 16, "titlePadding": 3, "tickSize": 5, "labelOverlap": false}}, "text": {"field": "sig"}, "fill": {"field": "g", "type": "nominal"}}},
     {"data": {"values": [{}]}, "mark": {"type": "text", "align": "right", "baseline": "middle", "fontSize": 15, "dx": -46}, "encoding": {"x": {"datum": "Control"}, "y": {"datum": 131.7}, "text": {"value": "Δₘₐₓ[ATP]"}}},
     {"data": {"values": [{}]}, "mark": {"type": "text", "align": "right", "baseline": "middle", "fontSize": 11, "dx": -30.6, "dy": 5}, "encoding": {"x": {"datum": "Control"}, "y": {"datum": 131.7}, "text": {"value": "ER"}}},
     {"data": {"values": [{}]}, "mark": {"type": "text", "align": "center", "baseline": "middle", "fontSize": 25, "dx": -79.9}, "encoding": {"x": {"datum": "Control"}, "y": {"datum": 172.5}, "text": {"value": "D"}}}
    ]
   },
   {"width": 32.3, "height": 0.1, "data": {"values": [{}]}, "mark": {"type": "point", "opacity": 0}, "encoding": {}},
   {
    "width": 100, "height": 261.7,
    "data": {"name": "D2"},
    "layer": [
     {"data": {"values": [{}]}, "mark": {"type": "rule", "color": "#9a9a9a", "strokeWidth": 1}, "encoding": {"y": {"datum": -100, "type": "quantitative", "title": "Δₘₐₓ Ratio (F₅₃₅/F₄₈₀)/R₀ (%)", "axis": {"values": [0, -20, -40, -60, -80, -100, -120, -140], "tickCount": 10, "labelExpr": "datum.value === 0 ? '0' : '-' + abs(datum.value)", "title": "Δₘₐₓ Ratio (F₅₃₅/F₄₈₀)/R₀ (%)", "titleFontSize": 15, "labelFontSize": 12, "titlePadding": 5, "tickSize": 5, "labelOverlap": false}}}},
     {"data": {"values": [{}]}, "mark": {"type": "rule", "color": "#333333", "strokeWidth": 1.3}, "encoding": {"y": {"datum": 0, "type": "quantitative", "title": "Δₘₐₓ Ratio (F₅₃₅/F₄₈₀)/R₀ (%)", "axis": {"values": [0, -20, -40, -60, -80, -100, -120, -140], "tickCount": 10, "labelExpr": "datum.value === 0 ? '0' : '-' + abs(datum.value)", "title": "Δₘₐₓ Ratio (F₅₃₅/F₄₈₀)/R₀ (%)", "titleFontSize": 15, "labelFontSize": 12, "titlePadding": 5, "tickSize": 5, "labelOverlap": false}}}},
     {"mark": {"type": "bar", "strokeWidth": 1.5},
      "encoding": {
       "x": {"field": "g", "type": "nominal", "sort": null, "scale": {"domain": ["Control", "+ Oligomycin"], "paddingInner": 0.32, "paddingOuter": 0.17}, "axis": null},
       "y": {"field": "v", "type": "quantitative", "title": "Δₘₐₓ Ratio (F₅₃₅/F₄₈₀)/R₀ (%)", "scale": {"domain": [-150, 0], "nice": false, "range": [261.7, 15.7]}, "axis": {"values": [0, -20, -40, -60, -80, -100, -120, -140], "tickCount": 10, "labelExpr": "datum.value === 0 ? '0' : '-' + abs(datum.value)", "title": "Δₘₐₓ Ratio (F₅₃₅/F₄₈₀)/R₀ (%)", "titleFontSize": 15, "labelFontSize": 12, "titlePadding": 5, "tickSize": 5, "labelOverlap": false}},
       "fill": {"field": "g", "type": "nominal", "scale": {"domain": ["Control", "+ Oligomycin"], "range": ["#ffffff", "#ff0000"]}, "legend": null},
       "stroke": {"field": "g", "type": "nominal", "scale": {"domain": ["Control", "+ Oligomycin"], "range": ["#000000", "#ff0000"]}, "legend": null}
      }},
     {"mark": {"type": "rule", "strokeWidth": 1.5},
      "encoding": {"x": {"field": "g", "type": "nominal", "sort": null, "axis": null}, "y": {"field": "v", "type": "quantitative", "title": "Δₘₐₓ Ratio (F₅₃₅/F₄₈₀)/R₀ (%)", "axis": {"values": [0, -20, -40, -60, -80, -100, -120, -140], "tickCount": 10, "labelExpr": "datum.value === 0 ? '0' : '-' + abs(datum.value)", "title": "Δₘₐₓ Ratio (F₅₃₅/F₄₈₀)/R₀ (%)", "titleFontSize": 15, "labelFontSize": 12, "titlePadding": 5, "tickSize": 5, "labelOverlap": false}}, "y2": {"field": "e"}, "stroke": {"field": "g", "type": "nominal", "legend": null}}},
     {"mark": {"type": "tick", "thickness": 1.5, "size": 18},
      "encoding": {"x": {"field": "g", "type": "nominal", "sort": null, "axis": null}, "y": {"field": "e", "type": "quantitative", "title": "Δₘₐₓ Ratio (F₅₃₅/F₄₈₀)/R₀ (%)", "axis": {"values": [0, -20, -40, -60, -80, -100, -120, -140], "tickCount": 10, "labelExpr": "datum.value === 0 ? '0' : '-' + abs(datum.value)", "title": "Δₘₐₓ Ratio (F₅₃₅/F₄₈₀)/R₀ (%)", "titleFontSize": 15, "labelFontSize": 12, "titlePadding": 5, "tickSize": 5, "labelOverlap": false}}, "stroke": {"field": "g", "type": "nominal", "legend": null}}},
     {"data": {"values": [{}]}, "mark": {"type": "text", "align": "right", "baseline": "middle", "fontSize": 13, "dx": -41}, "encoding": {"x": {"datum": "Control", "axis": null}, "y": {"datum": -10.8}, "text": {"value": "Δₘₐₓ[Ca²⁺]"}}},
     {"data": {"values": [{}]}, "mark": {"type": "text", "align": "right", "baseline": "middle", "fontSize": 9.5, "dx": -28.6, "dy": 4}, "encoding": {"x": {"datum": "Control", "axis": null}, "y": {"datum": -10.8}, "text": {"value": "ER"}}}
    ]
   }
  ]
 }
]
}
